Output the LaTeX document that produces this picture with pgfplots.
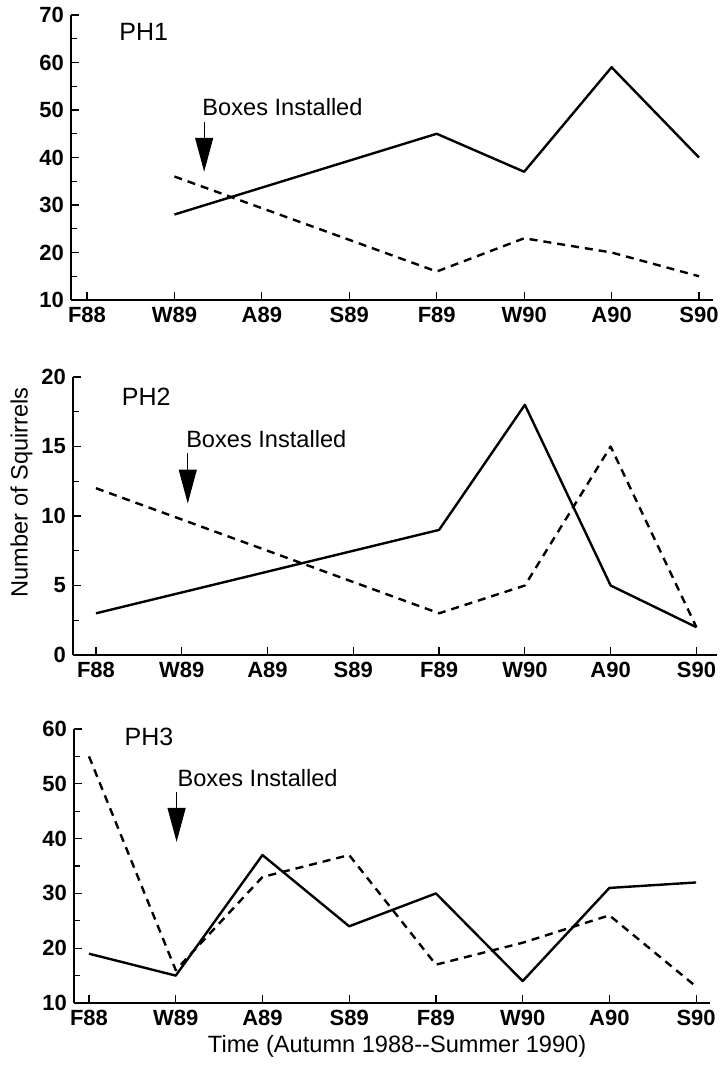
\documentclass[border=0pt]{standalone}
\usepackage{pgfplots}
\pgfplotsset{compat=1.18}
\usepackage{fontspec}
\setmainfont{Liberation Sans}
\usetikzlibrary{arrows.meta}

\pgfplotsset{
  sq/.style={
    scale only axis,
    axis x line=bottom, axis y line=left,
    axis line style={-, line width=1.1pt},
    tick align=inside,
    major tick length=4pt, minor tick length=3pt,
    every tick/.style={line width=0.6pt, black},
    xtick={0,...,7},
    xticklabels={F88,W89,A89,S89,F89,W90,A90,S90},
    minor y tick num=1,
    ticklabel style={font=\fontsize{11}{13}\selectfont\bfseries},
    /pgf/number format/assume math mode=true,
    clip=false,
    every axis plot/.append style={line width=1.2pt, line join=round},
  },
  dsh/.style={dash pattern=on 4pt off 3pt},
}
\newcommand{\phfont}{\fontsize{12.5}{14}\selectfont}
\newcommand{\bxfont}{\fontsize{11.8}{13}\selectfont}

\begin{document}
\begin{tikzpicture}
\path[use as bounding box] (0,0) rectangle (360.5pt,-533.5pt);

% Panel PH1
\begin{axis}[sq, at={(35.5pt,-150pt)}, anchor=south west,
  width=321pt, height=142.5pt,
  xmin=-0.183, xmax=7.16, ymin=10, ymax=70, ytick={10,20,...,70}]
\addplot[black] coordinates {(1,28) (4,45) (5,37) (6,59) (7,40)};
\addplot[black, dsh] coordinates {(1,36) (4,16) (5,23) (6,20) (7,15)};
\node[anchor=west, font=\phfont] at (axis cs:0.29,66.4) {PH1};
\node[anchor=west, font=\bxfont] at (axis cs:1.24,50.6) {Boxes Installed};
\draw[line width=0.6pt, -{Triangle[length=17pt,width=9pt]}] (axis cs:1.34,47.5) -- (axis cs:1.34,37);
\end{axis}

% Panel PH2
\begin{axis}[sq, at={(36.5pt,-327.5pt)}, anchor=south west,
  width=322pt, height=139pt,
  xmin=-0.268, xmax=7.24, ymin=0, ymax=20, ytick={0,5,...,20}]
\addplot[black] coordinates {(0,3) (4,9) (5,18) (6,5) (7,2)};
\addplot[black, dsh] coordinates {(0,12) (4,3) (5,5) (6,15) (7,2)};
\node[anchor=west, font=\phfont] at (axis cs:0.22,18.6) {PH2};
\node[anchor=west, font=\bxfont] at (axis cs:0.97,15.5) {Boxes Installed};
\draw[line width=0.6pt, -{Triangle[length=17pt,width=9pt]}] (axis cs:1.07,14.5) -- (axis cs:1.07,10.9);
\node[rotate=90, font=\fontsize{11.8}{13}\selectfont] at (axis description cs:-0.08,0.585) {Number of Squirrels};
\end{axis}

% Panel PH3
\begin{axis}[sq, at={(37pt,-501.5pt)}, anchor=south west,
  width=318pt, height=137pt,
  xmin=-0.173, xmax=7.16, ymin=10, ymax=60, ytick={10,20,...,60}]
\addplot[black] coordinates {(0,19) (1,15) (2,37) (3,24) (4,30) (5,14) (6,31) (7,32)};
\addplot[black, dsh] coordinates {(0,55) (1,16) (2,33) (3,37) (4,17) (5,21) (6,26) (7,13)};
\node[anchor=west, font=\phfont] at (axis cs:0.33,58.5) {PH3};
\node[anchor=west, font=\bxfont] at (axis cs:0.94,51) {Boxes Installed};
\draw[line width=0.6pt, -{Triangle[length=17pt,width=9pt]}] (axis cs:1.01,48.5) -- (axis cs:1.01,39.4);
\node[font=\fontsize{11.8}{13}\selectfont] at (axis description cs:0.508,-0.16) {Time (Autumn 1988{-}{-}Summer 1990)};
\end{axis}
\end{tikzpicture}
\end{document}
